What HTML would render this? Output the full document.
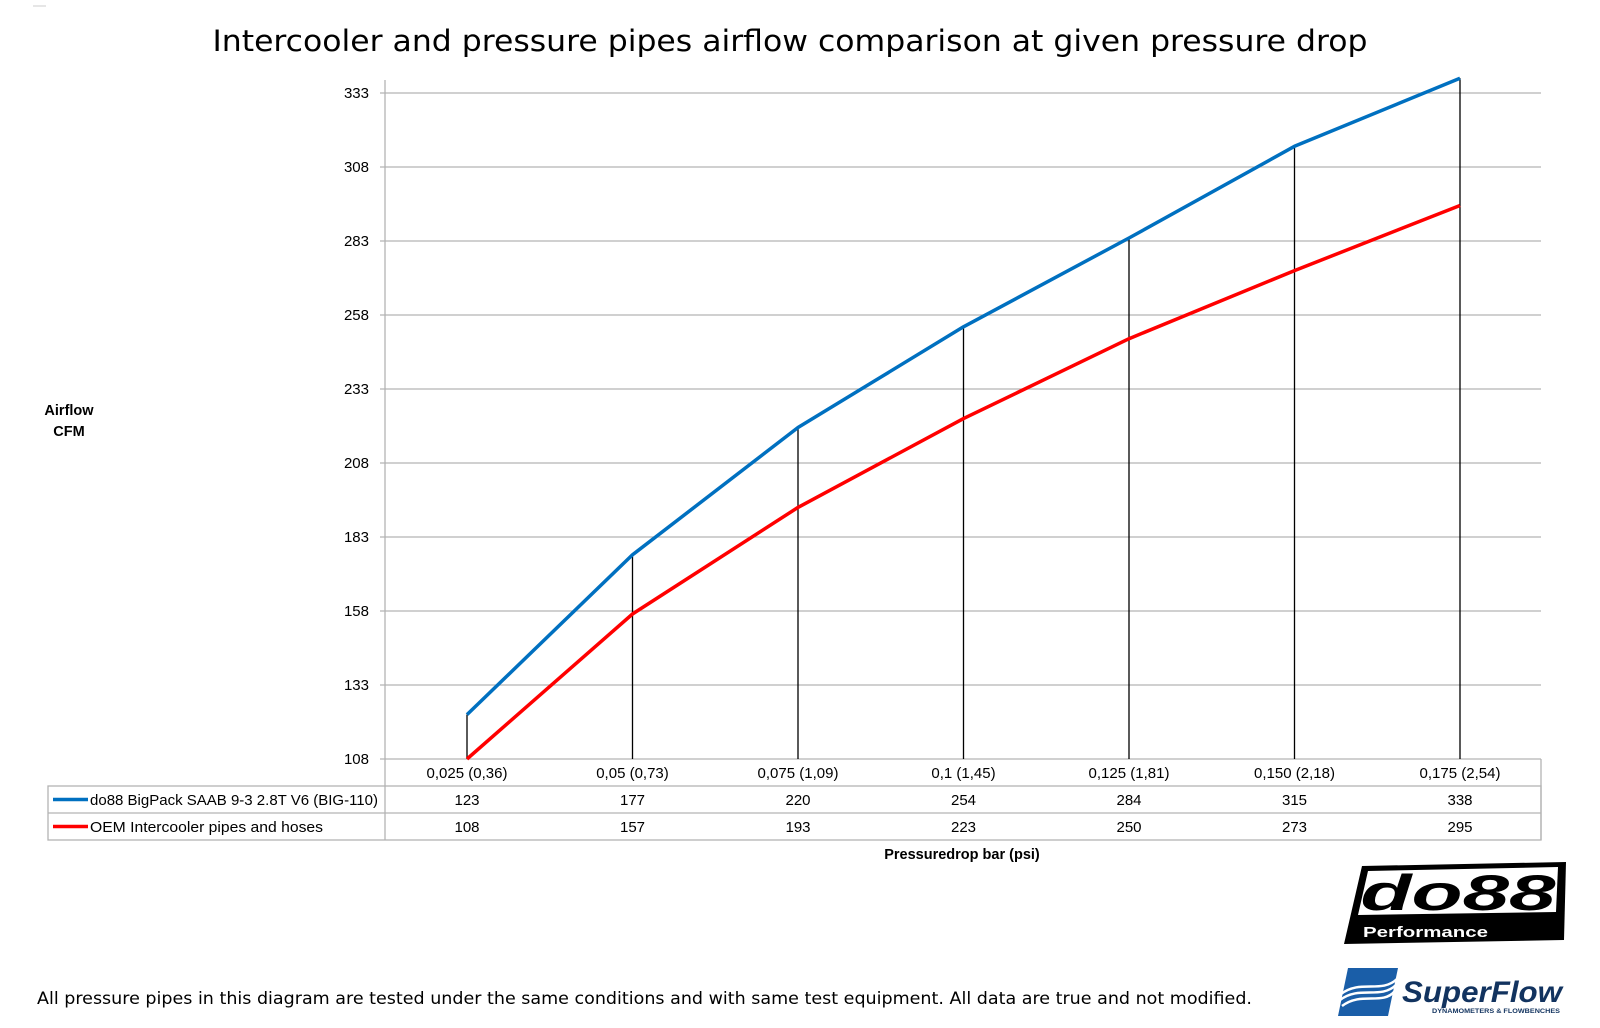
<!DOCTYPE html>
<html><head><meta charset="utf-8"><style>
html,body{margin:0;padding:0;background:#fff;}
svg{display:block;}
text{font-family:"Liberation Sans",sans-serif;fill:#000;}
</style></head><body>
<svg width="1600" height="1028" viewBox="0 0 1600 1028" xmlns="http://www.w3.org/2000/svg">
<line x1="33" y1="6" x2="46" y2="6" stroke="#ccc" stroke-width="1"/>
<text x="790" y="51" text-anchor="middle" style="font-family:'DejaVu Sans',sans-serif;font-size:29px" textLength="1155" lengthAdjust="spacingAndGlyphs">Intercooler and pressure pipes airflow comparison at given pressure drop</text>
<g stroke="#b3b3b3" stroke-width="1.3">
<line x1="380" y1="93" x2="1541" y2="93"/>
<line x1="380" y1="167" x2="1541" y2="167"/>
<line x1="380" y1="241" x2="1541" y2="241"/>
<line x1="380" y1="315" x2="1541" y2="315"/>
<line x1="380" y1="389" x2="1541" y2="389"/>
<line x1="380" y1="463" x2="1541" y2="463"/>
<line x1="380" y1="537" x2="1541" y2="537"/>
<line x1="380" y1="611" x2="1541" y2="611"/>
<line x1="380" y1="685" x2="1541" y2="685"/>
<line x1="380" y1="759" x2="1541" y2="759"/>
<line x1="385" y1="80" x2="385" y2="840"/>
<line x1="1541" y1="759" x2="1541" y2="840"/>
<rect x="48" y="786" width="1493" height="54" fill="none"/>
<line x1="48" y1="813" x2="1541" y2="813"/>
</g>
<g font-size="15" text-anchor="end">
<text x="369" y="98">333</text><text x="369" y="172">308</text><text x="369" y="246">283</text>
<text x="369" y="320">258</text><text x="369" y="394">233</text><text x="369" y="468">208</text>
<text x="369" y="542">183</text><text x="369" y="616">158</text><text x="369" y="690">133</text>
<text x="369" y="764">108</text>
</g>
<g stroke="#000" stroke-width="1.3">
<line x1="467" y1="714.6" x2="467" y2="759"/>
<line x1="632.5" y1="554.8" x2="632.5" y2="759"/>
<line x1="798" y1="427.5" x2="798" y2="759"/>
<line x1="963.5" y1="326.8" x2="963.5" y2="759"/>
<line x1="1129" y1="238" x2="1129" y2="759"/>
<line x1="1294.5" y1="146.3" x2="1294.5" y2="759"/>
<line x1="1460" y1="78.2" x2="1460" y2="759"/>
</g>
<polyline fill="none" stroke="#ff0000" stroke-width="3.5" stroke-linejoin="round" points="467,759 632.5,614 798,507.4 963.5,418.6 1129,338.7 1294.5,270.6 1460,205.5"/>
<polyline fill="none" stroke="#0070c0" stroke-width="3.5" stroke-linejoin="round" points="467,714.6 632.5,554.8 798,427.5 963.5,326.8 1129,238 1294.5,146.3 1460,78.2"/>
<g font-size="15" text-anchor="middle">
<text x="467" y="778">0,025 (0,36)</text><text x="632.5" y="778">0,05 (0,73)</text>
<text x="798" y="778">0,075 (1,09)</text><text x="963.5" y="778">0,1 (1,45)</text>
<text x="1129" y="778">0,125 (1,81)</text><text x="1294.5" y="778">0,150 (2,18)</text>
<text x="1460" y="778">0,175 (2,54)</text>
<text x="467" y="805">123</text><text x="632.5" y="805">177</text><text x="798" y="805">220</text>
<text x="963.5" y="805">254</text><text x="1129" y="805">284</text><text x="1294.5" y="805">315</text><text x="1460" y="805">338</text>
<text x="467" y="832">108</text><text x="632.5" y="832">157</text><text x="798" y="832">193</text>
<text x="963.5" y="832">223</text><text x="1129" y="832">250</text><text x="1294.5" y="832">273</text><text x="1460" y="832">295</text>
</g>
<line x1="53" y1="799.5" x2="88" y2="799.5" stroke="#0070c0" stroke-width="3.5"/>
<line x1="53" y1="826.5" x2="88" y2="826.5" stroke="#ff0000" stroke-width="3.5"/>
<text x="90" y="805" font-size="15" textLength="288" lengthAdjust="spacingAndGlyphs">do88 BigPack SAAB 9-3 2.8T V6 (BIG-110)</text>
<text x="90" y="832" font-size="15" textLength="233" lengthAdjust="spacingAndGlyphs">OEM Intercooler pipes and hoses</text>
<g font-size="14.5" font-weight="bold" text-anchor="middle">
<text x="69" y="415">Airflow</text><text x="69" y="436">CFM</text>
<text x="962" y="859">Pressuredrop bar (psi)</text>
</g>
<text x="37" y="1004" style="font-family:'DejaVu Sans',sans-serif;font-size:16.5px" textLength="1215" lengthAdjust="spacingAndGlyphs">All pressure pipes in this diagram are tested under the same conditions and with same test equipment. All data are true and not modified.</text>
<!-- do88 logo -->
<polygon points="1362,866 1566,862 1564,940 1344,944" fill="#000"/>
<polygon points="1368,871 1558,867 1556,912 1358,915" fill="#fff"/>
<text x="1458" y="910" text-anchor="middle" font-size="50" font-weight="bold" font-style="italic" textLength="195" lengthAdjust="spacingAndGlyphs" style="fill:#000">do88</text>
<text x="1363" y="937" font-size="15" font-weight="bold" style="fill:#fff" textLength="125" lengthAdjust="spacingAndGlyphs">Performance</text>
<!-- SuperFlow logo -->
<polygon points="1348,968 1398,968 1388,1016 1338,1016" fill="#1a5ea8"/>
<path d="M1340,1000 C1360,985 1380,1000 1396,985 M1341,994 C1361,979 1381,994 1397,979 M1342,1006 C1362,991 1382,1006 1395,991" stroke="#fff" stroke-width="2.5" fill="none"/>
<text x="1402" y="1002" font-size="30" font-weight="bold" font-style="italic" style="fill:#12335f" textLength="160" lengthAdjust="spacingAndGlyphs">SuperFlow</text>
<text x="1432" y="1013" font-size="6.5" font-weight="bold" style="fill:#12335f" textLength="128" lengthAdjust="spacingAndGlyphs">DYNAMOMETERS &amp; FLOWBENCHES</text>
</svg>
</body></html>
